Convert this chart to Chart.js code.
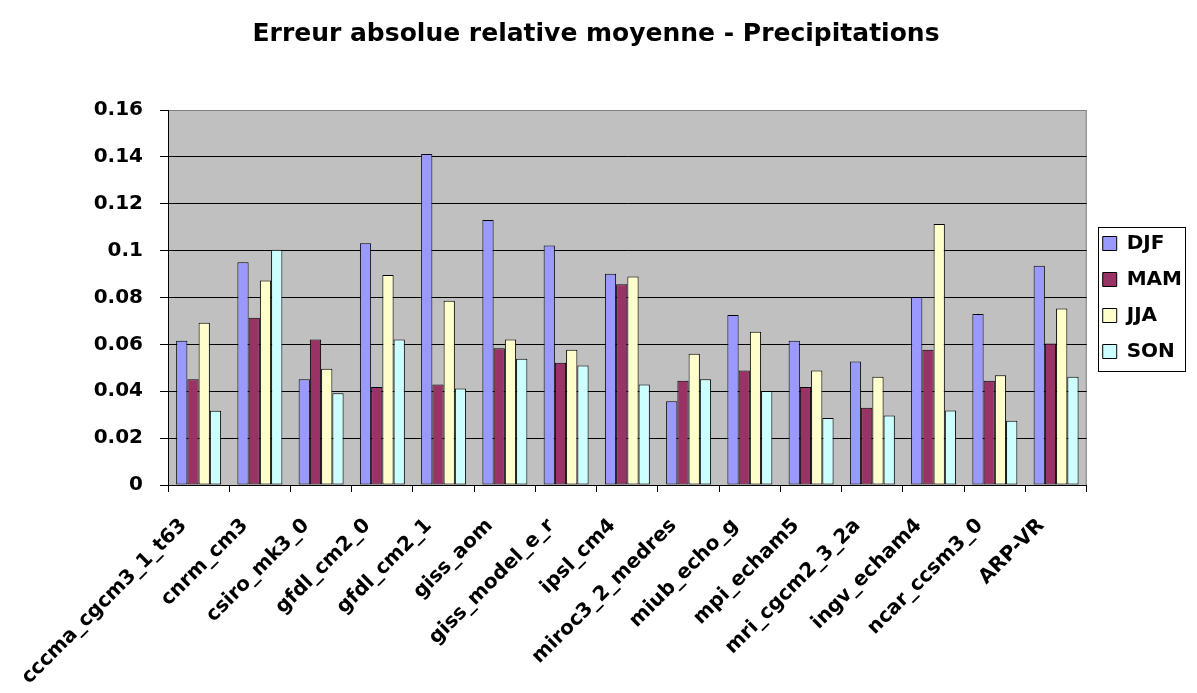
<!DOCTYPE html>
<html>
<head>
<meta charset="utf-8">
<script src="https://cdn.jsdelivr.net/npm/chart.js@4"></script>
<style>
  html, body { margin: 0; padding: 0; background: #fff; }
  #wrap { width: 1197px; height: 693px; position: relative; }
</style>
</head>
<body>
<div id="wrap"><canvas id="bar-chart"></canvas></div>
<script>
// modèles (axe des x)
const models = ['cccma_cgcm3_1_t63', 'cnrm_cm3', 'csiro_mk3_0', 'gfdl_cm2_0', 'gfdl_cm2_1',
    'giss_aom', 'giss_model_e_r', 'ipsl_cm4', 'miroc3_2_medres', 'miub_echo_g',
    'mpi_echam5', 'mri_cgcm2_3_2a', 'ingv_echam4', 'ncar_ccsm3_0', 'ARP-VR'];

// erreur par saison
const djf = [0.0615, 0.095, 0.0451, 0.1032, 0.1412, 0.1131, 0.1022, 0.0901, 0.0357, 0.0725, 0.0615, 0.0527, 0.0802, 0.073, 0.0935];
const mam = [0.0451, 0.0714, 0.0621, 0.0418, 0.0429, 0.0583, 0.0522, 0.0857, 0.0445, 0.0489, 0.0418, 0.033, 0.0577, 0.0445, 0.0604];
const jja = [0.0692, 0.0873, 0.0496, 0.0896, 0.0786, 0.0621, 0.0577, 0.089, 0.056, 0.0654, 0.0489, 0.0462, 0.1114, 0.0468, 0.0753];
const son = [0.0317, 0.1004, 0.0391, 0.0621, 0.0412, 0.0539, 0.051, 0.0429, 0.0451, 0.0401, 0.0286, 0.0297, 0.0318, 0.0274, 0.0462];

const yTickLabels = ['0', '0.02', '0.04', '0.06', '0.08', '0.1', '0.12', '0.14', '0.16'];

const FONT = "'DejaVu Sans', sans-serif";

// fond gris de la zone de tracé + bordure de la légende
const plotBg = {
    id: 'plotBg',
    beforeDraw(chart) {
        const a = chart.chartArea;
        const ctx = chart.ctx;
        ctx.save();
        ctx.fillStyle = '#C0C0C0';
        ctx.fillRect(a.left, a.top, a.right - a.left, a.bottom - a.top);
        ctx.strokeStyle = '#808080';
        ctx.lineWidth = 1;
        ctx.beginPath();
        ctx.moveTo(a.left, a.top + 0.5);
        ctx.lineTo(a.right - 0.5, a.top + 0.5);
        ctx.lineTo(a.right - 0.5, a.bottom);
        ctx.stroke();
        ctx.restore();
    },
    afterDraw(chart) {
        const boxes = chart.legend.legendHitBoxes;
        if (!boxes || !boxes.length) return;
        const first = boxes[0];
        const last = boxes[boxes.length - 1];
        const ctx = chart.ctx;
        ctx.save();
        ctx.strokeStyle = '#000';
        ctx.lineWidth = 1;
        const x = Math.round(chart.chartArea.right + 11) + 0.5;
        const y = Math.round(first.top - 7) + 0.5;
        ctx.strokeRect(x, y, 87, Math.round(last.top + last.height + 10 - y));
        ctx.restore();
    }
};

const ctx = document.getElementById('bar-chart').getContext('2d');
const currentChart = new Chart(ctx, {
    type: 'bar',
    data: {
        labels: models,
        datasets: [
            { label: 'DJF', data: djf, backgroundColor: '#9999FF' },
            { label: 'MAM', data: mam, backgroundColor: '#993366' },
            { label: 'JJA', data: jja, backgroundColor: '#FFFFCC' },
            { label: 'SON', data: son, backgroundColor: '#CCFFFF' }
        ].map(d => Object.assign(d, { borderColor: '#000', borderWidth: 1, borderSkipped: false }))
    },
    options: {
        responsive: true,
        maintainAspectRatio: false,
        animation: false,
        devicePixelRatio: 1,
        categoryPercentage: 0.734,
        barPercentage: 1.0,
        layout: { padding: { left: 0, right: 5, top: 0, bottom: 0 } },
        plugins: {
            title: {
                display: true,
                text: 'Erreur absolue relative moyenne - Precipitations',
                color: '#000',
                font: { family: FONT, size: 25, weight: 'bold' },
                padding: { top: 19, bottom: 61 }
            },
            legend: {
                position: 'right',
                fullSize: false,
                labels: {
                    color: '#000',
                    font: { family: FONT, size: 20, weight: 'bold', lineHeight: 1.05 },
                    boxWidth: 14,
                    boxHeight: 14,
                    padding: 16
                }
            },
            tooltip: { enabled: false }
        },
        scales: {
            x: {
                border: { color: '#000', width: 1 },
                grid: { offset: true, drawOnChartArea: false, drawTicks: true, tickLength: 7, color: '#000' },
                ticks: {
                    color: '#000',
                    autoSkip: false,
                    minRotation: 45,
                    maxRotation: 45,
                    padding: 22,
                    labelOffset: -15,
                    font: { family: FONT, size: 20, weight: 'bold' }
                },
                afterFit(scale) { scale.height = 208; }
            },
            y: {
                min: 0,
                max: 0.16,
                border: { color: '#000', width: 1 },
                grid: {
                    color: c => (c.tick && c.tick.value >= 0.16 ? '#808080' : '#000'),
                    tickColor: '#000',
                    tickLength: 8,
                    lineWidth: 1
                },
                ticks: {
                    stepSize: 0.02,
                    color: '#000',
                    padding: 17,
                    font: { family: FONT, size: 20, weight: 'bold' },
                    callback: (v, i) => yTickLabels[i]
                },
                afterFit(scale) { scale.width = 168; }
            }
        }
    },
    plugins: [plotBg]
});
</script>
</body>
</html>
